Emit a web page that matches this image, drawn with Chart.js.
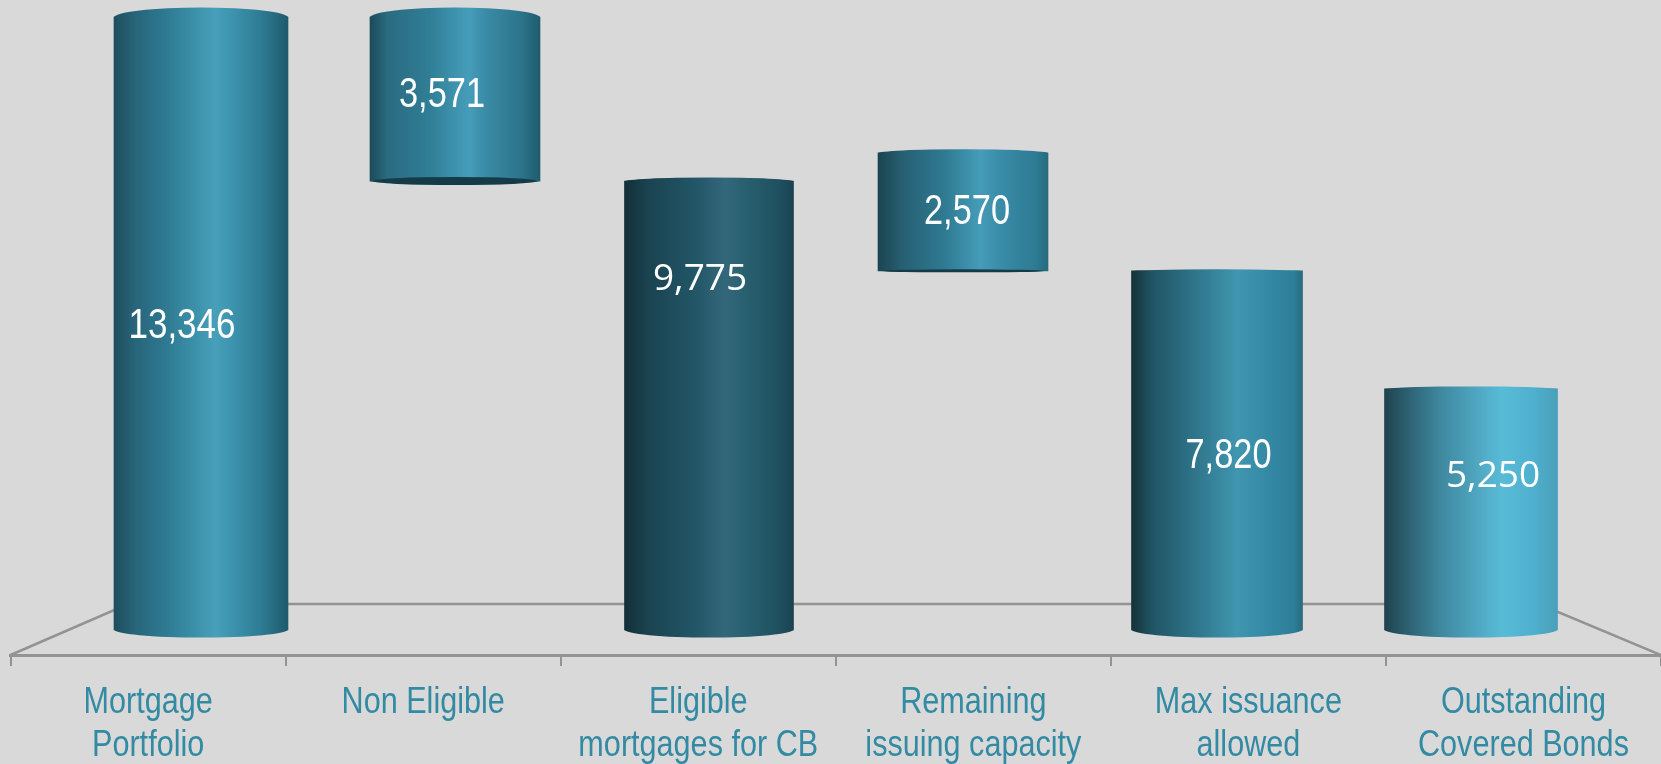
<!DOCTYPE html>
<html>
<head>
<meta charset="utf-8">
<style>
html,body{margin:0;padding:0;background:#d9d9d9;overflow:hidden}
#wrap{position:absolute;left:0;top:0;width:1661px;height:764px}
</style>
<script src="https://cdn.jsdelivr.net/npm/chart.js@4"></script>
</head>
<body>
<div id="wrap"><canvas id="c" width="1661" height="764"></canvas></div>
<script>
// Data
const categories = [["Mortgage","Portfolio"],["Non Eligible"],["Eligible","mortgages for CB"],["Remaining","issuing capacity"],["Max issuance","allowed"],["Outstanding","Covered Bonds"]];
const barIndex = [0,1,2,3,4,5];
const barValues = [13346,3571,9775,2570,7820,5250];
const barBases  = [0,9775,0,7820,0,0];
// Floor outline of the 3D box, in axis units
const floorX = [-0.7496,-0.287,5.268,5.748];
const floorY = [-544,566,566,-544];
// Style
const gradients = [
 [[0,'#1e4e5e'],[.12,'#27657a'],[.3,'#2e7a92'],[.58,'#479fba'],[.66,'#3f96b1'],[.85,'#2d7a93'],[1,'#1f5a6c']],
 [[0,'#1c4a59'],[.1,'#2a6b80'],[.35,'#307e96'],[.58,'#469dba'],[.68,'#3a8ba6'],[.88,'#2c758d'],[1,'#205c6e']],
 [[0,'#122f39'],[.14,'#1b4350'],[.4,'#215565'],[.6,'#33677a'],[.72,'#28606f'],[.92,'#1e4f5f'],[1,'#1a4351']],
 [[0,'#1b4450'],[.14,'#275f72'],[.4,'#2f7b93'],[.6,'#459cb8'],[.72,'#3a8ca8'],[.93,'#2d7a93'],[1,'#276a7e']],
 [[0,'#163238'],[.12,'#205464'],[.35,'#2d7287'],[.62,'#4096b0'],[.78,'#358aa5'],[.95,'#2d7e98'],[1,'#2a6a7e']],
 [[0,'#1f424e'],[.12,'#2b5e6e'],[.32,'#3e879f'],[.6,'#54b0cb'],[.68,'#58bbd6'],[.85,'#4fb1d0'],[1,'#4a9fb9']]
];
const barWidths = [174,170,169,170,171,173];
const topRy = [10,10,4,4,2,3];
const bottomRy = [8,4,8,1.5,8,8];
const lensColor = '#153b48';
const labelTexts = ["13,346","3,571","9,775","2,570","7,820","5,250"];
const labelDx = [-19,-13,-9,4,11.5,22];
const labelDy = [14,7.5,-116,12,17.5,-22];
const narrowFont = '43px "Liberation Sans"', wideFont = '37px "Open Sans"';
const labelFont = [narrowFont,narrowFont,wideFont,narrowFont,narrowFont,wideFont];
const labelSqueeze = [.815,.8,1,.8,.8,1];
const tickSqueeze = .85;

// Category axis whose labels are drawn condensed, as an Arial Narrow look
class NarrowCategory extends Chart.CategoryScale {
  static id = 'narrowCategory';
  drawLabels(area){
    const ctx=this.ctx, orig=ctx.fillText;
    ctx.fillText=function(t,x,y){ return orig.call(this,t,x,y,this.measureText(t).width*tickSqueeze); };
    super.drawLabels(area);
    delete ctx.fillText;
  }
}
Chart.register(NarrowCategory);

function grad(ctx,left,right,i){
  const g = ctx.createLinearGradient(left,0,right,0);
  gradients[i].forEach(s=>g.addColorStop(s[0],s[1]));
  return g;
}
const cylinder = {
  id:'cylinder',
  afterDatasetsUpdate(chart){
    chart.getDatasetMeta(0).data.forEach((b,i)=>{ b.width=barWidths[i]; });
  },
  afterDatasetDraw(chart,args){
    const meta = chart.getDatasetMeta(args.index);
    if(meta.type!=='bar') return;
    const ctx = chart.ctx;
    meta.data.forEach((b,i)=>{
      const l=b.x-b.width/2, r=b.x+b.width/2, a=b.width/2;
      ctx.save();
      ctx.fillStyle = grad(ctx,l,r,i);
      ctx.beginPath(); ctx.ellipse(b.x,b.y+0.5,a,topRy[i],0,Math.PI,2*Math.PI); ctx.fill();
      ctx.beginPath(); ctx.ellipse(b.x,b.base-0.5,a,bottomRy[i],0,0,Math.PI); ctx.fill();
      if(barBases[i]>0){
        ctx.beginPath(); ctx.ellipse(b.x,b.base,a-3,bottomRy[i],0,0,2*Math.PI); ctx.fillStyle=lensColor; ctx.fill();
      }
      ctx.restore();
    });
  },
  afterDatasetsDraw(chart){
    const meta = chart.getDatasetMeta(0), ctx = chart.ctx;
    meta.data.forEach((b,i)=>{
      ctx.save();
      ctx.fillStyle='#ffffff';
      ctx.textAlign='center'; ctx.textBaseline='alphabetic';
      ctx.font = labelFont[i];
      ctx.fillText(labelTexts[i], b.x+labelDx[i], (b.y+b.base)/2+labelDy[i], ctx.measureText(labelTexts[i]).width*labelSqueeze[i]);
      ctx.restore();
    });
  }
};
new Chart(document.getElementById('c'),{
  type:'bar',
  data:{datasets:[
    {type:'bar',order:1,xAxisID:'xBars',yAxisID:'y',
     data:barIndex.map((x,i)=>({x,y:[barBases[i],barBases[i]+barValues[i]]})),
     barThickness:172,borderWidth:0,
     backgroundColor:c=>{
       const s=c.chart.scales.xBars; if(!s||c.dataIndex==null) return '#2d7a93';
       const m=s.getPixelForValue(c.dataIndex), h=barWidths[c.dataIndex]/2;
       if(!isFinite(m)) return '#2d7a93';
       return grad(c.chart.ctx,m-h,m+h,c.dataIndex);}},
    {type:'line',order:2,xAxisID:'xBars',yAxisID:'y',
     data:floorX.map((x,i)=>({x,y:floorY[i]})),
     borderColor:'#939393',borderWidth:2.5,pointRadius:0,tension:0,fill:false,clip:false}
  ]},
  options:{
    responsive:false,animation:false,
    layout:{padding:{left:10.6,right:0,top:0,bottom:0}},
    plugins:{legend:{display:false},tooltip:{enabled:false}},
    scales:{
      xBars:{type:'linear',axis:'x',position:'bottom',display:false,offset:false,grid:{offset:false},min:-0.7496,max:5.748},
      xLabels:{type:'narrowCategory',axis:'x',position:'bottom',labels:categories,offset:true,
        afterFit(s){s.height=109;s.paddingLeft=0;s.paddingRight=0;},
        border:{display:true,color:'#939393',width:3},
        grid:{drawOnChartArea:false,drawTicks:true,tickLength:11,color:'#939393',lineWidth:2,offset:true},
        ticks:{autoSkip:false,maxRotation:0,minRotation:0,padding:16,color:'#328aa3',font:{family:'"Liberation Sans"',size:36,lineHeight:1.195}}},
      y:{type:'linear',display:false,min:-544,max:13717}
    }
  },
  plugins:[cylinder,{id:'bg',beforeDraw(ch){const x=ch.ctx;x.save();x.fillStyle='#d9d9d9';x.fillRect(0,0,ch.width,ch.height);x.restore();}}]
});
</script>
</body>
</html>
